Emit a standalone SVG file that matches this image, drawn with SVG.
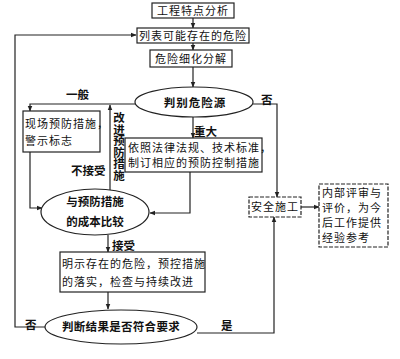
<svg xmlns="http://www.w3.org/2000/svg" width="400" height="359" viewBox="0 0 400 359">
<defs>
<marker id="ah" viewBox="0 0 10 10" refX="9" refY="5" markerWidth="5" markerHeight="5" orient="auto"><path d="M0,1 L10,5 L0,9 z" fill="#222"/></marker>
<style>
.box{fill:#fff;stroke:#222;stroke-width:1.2}
.dash{fill:#fff;stroke:#222;stroke-width:1.2;stroke-dasharray:4 1.5}
.ell{fill:#fff;stroke:#222;stroke-width:1.2}
.t{font-family:"Noto Sans CJK SC","Liberation Serif",sans-serif;font-size:11px;fill:#111;letter-spacing:1px}
.b{font-family:"Noto Sans CJK SC","Liberation Sans",sans-serif;font-size:11.5px;font-weight:bold;fill:#111}
.c{fill:none;stroke:#222;stroke-width:1.2}
</style>
</defs>
<rect width="400" height="359" fill="#fff"/>
<g id="connectors">
<path class="c" d="M193,18 V28" marker-end="url(#ah)"/>
<path class="c" d="M193,43 V50" marker-end="url(#ah)"/>
<path class="c" d="M193,67 V87" marker-end="url(#ah)"/>
<path class="c" d="M136,104 H30 V111" marker-end="url(#ah)"/>
<path class="c" d="M253,104 H277 V197" marker-end="url(#ah)"/>
<path class="c" d="M193,117 V138" marker-end="url(#ah)"/>
<path class="c" d="M110,190 V105" marker-end="url(#ah)"/>
<path class="c" d="M30,152 V208 H42" marker-end="url(#ah)"/>
<path class="c" d="M190,172 V213 H150" marker-end="url(#ah)"/>
<path class="c" d="M108,235 V252" marker-end="url(#ah)"/>
<path class="c" d="M108,292 V309" marker-end="url(#ah)"/>
<path class="c" d="M45,327 H15 V35 H136" marker-end="url(#ah)"/>
<path class="c" d="M197,333 H274 V217" marker-end="url(#ah)"/>
<path class="c" d="M301,207 H319" marker-end="url(#ah)"/>
</g>
<g id="n1"><rect class="box" x="152" y="3" width="82" height="15"/><text class="t" x="193" y="14.5" text-anchor="middle">工程特点分析</text></g>
<g id="n2"><rect class="box" x="137" y="28" width="112" height="15"/><text class="t" x="193" y="39.5" text-anchor="middle">列表可能存在的危险</text></g>
<g id="n3"><rect class="box" x="150" y="50" width="82" height="17"/><text class="t" x="191" y="62.5" text-anchor="middle">危险细化分解</text></g>
<g id="n4"><ellipse class="ell" cx="194" cy="102" rx="59" ry="15"/><text class="b" x="195" y="107" text-anchor="middle" font-size="12.5" letter-spacing="1">判别危险源</text></g>
<g id="n5"><rect class="box" x="23" y="111" width="77" height="41"/><text class="t" x="25" y="128" letter-spacing="0">现场预防措施，</text><text class="t" x="25" y="145" letter-spacing="0">警示标志</text></g>
<g id="n6"><rect class="box" x="125" y="138" width="137" height="34"/><text class="t" x="128" y="152" letter-spacing="0">依照法律法规、技术标准，</text><text class="t" x="128" y="167" letter-spacing="0.3">制订相应的预防控制措施</text></g>
<g id="n7"><ellipse class="ell" cx="95" cy="212" rx="54" ry="23"/><text class="b" x="95" y="206" text-anchor="middle" font-size="11">与预防措施</text><text class="b" x="95" y="226" text-anchor="middle" font-size="11">的成本比较</text></g>
<g id="n8"><rect class="box" x="60" y="252" width="145" height="40"/><text class="t" x="62" y="268" letter-spacing="0.5">明示存在的危险，预控措施</text><text class="t" x="62" y="286" letter-spacing="0.6">的落实，检查与持续改进</text></g>
<g id="n9"><ellipse class="ell" cx="121" cy="327" rx="76" ry="17"/><text class="b" x="121" y="331" text-anchor="middle" letter-spacing="0.3">判断结果是否符合要求</text></g>
<g id="n10"><rect class="dash" x="249" y="197" width="52" height="20"/><text class="t" x="275" y="211" text-anchor="middle" letter-spacing="0.5">安全施工</text></g>
<g id="n11"><rect class="dash" x="319" y="184" width="69" height="63"/><text class="t" x="322" y="197" letter-spacing="2">内部评审与</text><text class="t" x="322" y="212" letter-spacing="2">评价，为今</text><text class="t" x="322" y="227" letter-spacing="2">后工作提供</text><text class="t" x="322" y="242" letter-spacing="2">经验参考</text></g>
<g id="labels">
<text class="b" x="66" y="99" font-size="12">一般</text>
<text class="b" x="194" y="136" font-size="12">重大</text>
<text class="b" x="261" y="104" font-size="12">否</text>
<text class="b" x="71" y="175" font-size="12">不接受</text>
<text class="b" x="119" y="112" font-size="12" writing-mode="vertical-rl">改进预防措施</text>
<text class="b" x="112" y="250" font-size="12">接受</text>
<text class="b" x="25" y="329" font-size="12">否</text>
<text class="b" x="221" y="330" font-size="12">是</text>
</g>
</svg>
